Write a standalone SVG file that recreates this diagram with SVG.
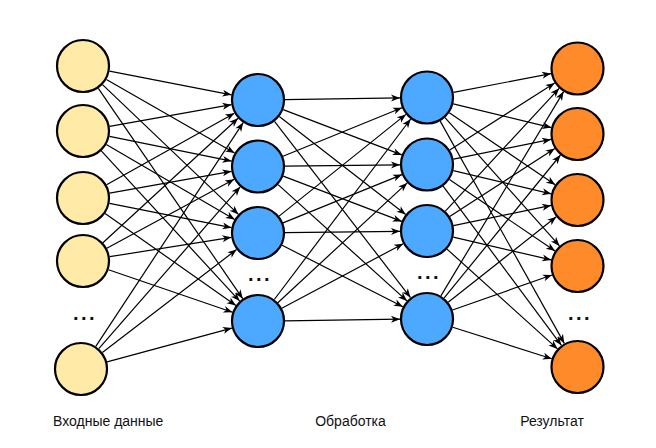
<svg xmlns="http://www.w3.org/2000/svg" width="656" height="448" viewBox="0 0 656 448">
<style>
.in{fill:#ffeaa7;stroke:#000;stroke-width:2.2}
.hid{fill:#4da9ff;stroke:#000;stroke-width:2.2}
.out{fill:#ff8a2a;stroke:#000;stroke-width:2.2}
.c line{stroke:#000;stroke-width:1.2;fill:none;marker-end:url(#ah)}
.lbl{font-family:"Liberation Sans",Arial,sans-serif;font-size:14px;fill:#111}
.dots{font-family:"Liberation Sans",Arial,sans-serif;font-size:20px;font-weight:bold;fill:#111;letter-spacing:2.5px}
</style>
<defs>
<marker id="ah" markerUnits="userSpaceOnUse" markerWidth="10" markerHeight="8" refX="9" refY="3.5" orient="auto" overflow="visible">
<path d="M0,0 L9,3.5 L0,7 L2.5,3.5 z" fill="#000"/>
</marker>
</defs>
<rect width="656" height="448" fill="#fff"/>
<g id="connectors" class="c">
<line x1="109.5" y1="71.15" x2="231.5" y2="94.85"/>
<line x1="106.4" y1="79.45" x2="234.6" y2="153.05"/>
<line x1="102.5" y1="84.6" x2="238.5" y2="214.4"/>
<line x1="98.3" y1="88.3" x2="242.7" y2="298.7"/>
<line x1="109.6" y1="126.3" x2="231.4" y2="104.7"/>
<line x1="109.5" y1="136.4" x2="231.5" y2="161.1"/>
<line x1="106.3" y1="144.6" x2="234.7" y2="219.4"/>
<line x1="101.3" y1="150.9" x2="239.7" y2="301.1"/>
<line x1="106.6" y1="184.8" x2="234.4" y2="113.2"/>
<line x1="109.6" y1="193.2" x2="231.4" y2="171.3"/>
<line x1="109.5" y1="203.3" x2="231.5" y2="227.7"/>
<line x1="105.1" y1="213.5" x2="235.9" y2="305.5"/>
<line x1="102.9" y1="242.7" x2="238.1" y2="118.3"/>
<line x1="106.8" y1="248.2" x2="234.2" y2="179.3"/>
<line x1="109.7" y1="256.7" x2="231.3" y2="237.3"/>
<line x1="108.5" y1="269.8" x2="232.5" y2="312.2"/>
<line x1="95.8" y1="346.4" x2="243.2" y2="122.6"/>
<line x1="98.8" y1="348.7" x2="240.2" y2="186.8"/>
<line x1="102.4" y1="352.6" x2="236.6" y2="249.5"/>
<line x1="107.1" y1="361.9" x2="231.9" y2="328.1"/>
<line x1="285" y1="99.6" x2="400" y2="97.9"/>
<line x1="283.2" y1="109.6" x2="401.8" y2="154.9"/>
<line x1="279.3" y1="116.5" x2="405.7" y2="214.5"/>
<line x1="274.5" y1="121.4" x2="410.5" y2="297.6"/>
<line x1="283" y1="156.3" x2="402" y2="107.7"/>
<line x1="285" y1="166.2" x2="400" y2="164.8"/>
<line x1="283.2" y1="176.1" x2="401.8" y2="221.4"/>
<line x1="278.1" y1="184.6" x2="407" y2="300.9"/>
<line x1="279.1" y1="216.1" x2="405.9" y2="114.4"/>
<line x1="283" y1="222.9" x2="402" y2="174.6"/>
<line x1="285" y1="232.7" x2="400" y2="231.3"/>
<line x1="282.1" y1="245.3" x2="402.9" y2="306.8"/>
<line x1="274.3" y1="299.5" x2="410.7" y2="119"/>
<line x1="277.8" y1="302.7" x2="407.2" y2="182.9"/>
<line x1="281.8" y1="308.3" x2="403.2" y2="243.7"/>
<line x1="285" y1="320.8" x2="400" y2="319.2"/>
<line x1="453.5" y1="92.4" x2="551" y2="73.6"/>
<line x1="453.2" y1="103.9" x2="551.3" y2="127.6"/>
<line x1="449.3" y1="112.7" x2="555.2" y2="184.8"/>
<line x1="445" y1="117.6" x2="559.5" y2="245.9"/>
<line x1="440.2" y1="121.1" x2="564.3" y2="343.4"/>
<line x1="449.8" y1="150" x2="554.7" y2="83"/>
<line x1="453.5" y1="159.1" x2="551" y2="139.4"/>
<line x1="453.3" y1="170.7" x2="551.2" y2="193.8"/>
<line x1="449.4" y1="179.6" x2="555.1" y2="250.9"/>
<line x1="443.1" y1="186.2" x2="561.4" y2="345.3"/>
<line x1="445.4" y1="211.2" x2="559.2" y2="88.3"/>
<line x1="449.7" y1="216.4" x2="554.8" y2="148.6"/>
<line x1="453.4" y1="225.6" x2="551.1" y2="205.4"/>
<line x1="453.3" y1="237.1" x2="551.2" y2="259.9"/>
<line x1="447" y1="249.1" x2="557.5" y2="348.9"/>
<line x1="440.9" y1="295.9" x2="563.6" y2="91.6"/>
<line x1="444" y1="298.1" x2="560.5" y2="155"/>
<line x1="448.2" y1="302.3" x2="556.3" y2="216.8"/>
<line x1="452.5" y1="310" x2="552" y2="275"/>
<line x1="452.7" y1="327.2" x2="551.8" y2="358.8"/>
</g>
<g id="in1"><circle class="in" cx="83" cy="66" r="26"/></g>
<g id="in2"><circle class="in" cx="83" cy="131" r="26"/></g>
<g id="in3"><circle class="in" cx="83" cy="198" r="26"/></g>
<g id="in4"><circle class="in" cx="83" cy="261" r="26"/></g>
<g id="in5"><circle class="in" cx="81" cy="369" r="26"/></g>
<g id="h1a"><circle class="hid" cx="258" cy="100" r="26"/></g>
<g id="h1b"><circle class="hid" cx="258" cy="166.5" r="26"/></g>
<g id="h1c"><circle class="hid" cx="258" cy="233" r="26"/></g>
<g id="h1d"><circle class="hid" cx="258" cy="321" r="26"/></g>
<g id="h2a"><circle class="hid" cx="427" cy="97.5" r="26"/></g>
<g id="h2b"><circle class="hid" cx="427" cy="164.5" r="26"/></g>
<g id="h2c"><circle class="hid" cx="427" cy="231" r="26"/></g>
<g id="h2d"><circle class="hid" cx="427" cy="319" r="26"/></g>
<g id="o1"><circle class="out" cx="577.5" cy="68.5" r="26"/></g>
<g id="o2"><circle class="out" cx="577.5" cy="134" r="26"/></g>
<g id="o3"><circle class="out" cx="577.5" cy="200" r="26"/></g>
<g id="o4"><circle class="out" cx="577.5" cy="266" r="26"/></g>
<g id="o5"><circle class="out" cx="577.5" cy="367" r="26"/></g>
<g id="ellipses">
<text class="dots" x="85" y="320" text-anchor="middle">...</text>
<text class="dots" x="260" y="281" text-anchor="middle">...</text>
<text class="dots" x="429" y="279" text-anchor="middle">...</text>
<text class="dots" x="580" y="320" text-anchor="middle">...</text>
</g>
<g id="labels">
<text class="lbl" x="53" y="426">Входные данные</text>
<text class="lbl" x="350.5" y="426" text-anchor="middle">Обработка</text>
<text class="lbl" x="552" y="426" text-anchor="middle">Результат</text>
</g>
</svg>
